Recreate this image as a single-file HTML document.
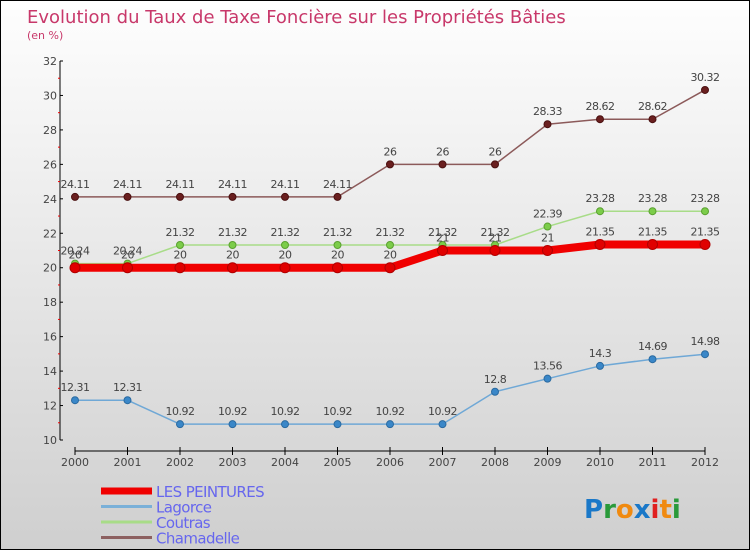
<!DOCTYPE html>
<html><head><meta charset="utf-8"><style>
html,body{margin:0;padding:0}
body{width:750px;height:550px;overflow:hidden;font-family:"DejaVu Sans","Liberation Sans",sans-serif}
#wrap{position:absolute;left:0;top:0;width:748px;height:548px;border:1px solid #000;background:linear-gradient(#fefefe,#cfcfcf)}
</style></head><body>
<div id="wrap">
<svg id="chart" width="748" height="548" style="position:absolute;left:0;top:0"></svg>
</div>
<script>
const years=["2000","2001","2002","2003","2004","2005","2006","2007","2008","2009","2010","2011","2012"];
const peintures=[20,20,20,20,20,20,20,21,21,21,21.35,21.35,21.35];
const lagorce=[12.31,12.31,10.92,10.92,10.92,10.92,10.92,10.92,12.8,13.56,14.3,14.69,14.98];
const coutras=[20.24,20.24,21.32,21.32,21.32,21.32,21.32,21.32,21.32,22.39,23.28,23.28,23.28];
const chamadelle=[24.11,24.11,24.11,24.11,24.11,24.11,26,26,26,28.33,28.62,28.62,30.32];
const yTicks=[10,12,14,16,18,20,22,24,26,28,30,32];
const seriesNames=["LES PEINTURES","Lagorce","Coutras","Chamadelle"];

const NS="http://www.w3.org/2000/svg";
const svg=document.getElementById('chart');
const ox=-1,oy=-1;
function X(i){return 75+i*52.5+ox;}
function Y(v){return 440-(v-10)*(379/22)+oy;}
function el(t,a,p){const e=document.createElementNS(NS,t);for(const k in a)e.setAttribute(k,a[k]);(p||svg).appendChild(e);return e;}
function txt(x,y,s,a){const t=el('text',Object.assign({x:x,y:y},a));t.textContent=s;return t;}

let t=txt(26,22,"Evolution du Taux de Taxe Foncière sur les Propriétés Bâties",{fill:"#c8386a","font-size":"18"});


t=txt(26,38,"(en %)",{fill:"#c8386a","font-size":"11"});



// y axis
let ax=el('line',{x1:X(0)-15,y1:Y(32),x2:X(0)-15,y2:Y(10),stroke:"#000","stroke-width":1});


yTicks.forEach(v=>{
  el('line',{x1:X(0)-15,y1:Y(v),x2:X(0)-12,y2:Y(v),stroke:"#000"});
  const l=txt(X(0)-18,Y(v)+4,String(v),{fill:"#444","font-size":"11","text-anchor":"end"});
  
  
  if(v<32) el('line',{x1:X(0)-17,y1:Y(v+1),x2:X(0)-15,y2:Y(v+1),stroke:"#e00"});
});
// x axis
ax=el('line',{x1:X(0),y1:451+oy,x2:X(12),y2:451+oy,stroke:"#000"});


years.forEach((y,i)=>{
  el('line',{x1:X(i),y1:447+oy,x2:X(i),y2:455+oy,stroke:"#000"});
  const l=txt(X(i),466+oy,y,{fill:"#444","font-size":"11","text-anchor":"middle"});
  
  
});

function series(vals,color,w,name,dot,labelDy){
  const g=el('g',{});
  
  
  const pts=vals.map((v,i)=>X(i)+","+Y(v)).join(" ");
  el('polyline',{points:pts,fill:"none",stroke:color,"stroke-width":w,"stroke-linejoin":"round"},g);
  vals.forEach((v,i)=>{
    const c=el('circle',{cx:X(i),cy:Y(v),r:dot.r,fill:dot.fill,stroke:dot.stroke,"stroke-width":1},g);
    
    
    const l=txt(X(i),Y(v)+labelDy,String(v),{fill:"#444","font-size":"11","text-anchor":"middle","letter-spacing":"-0.5"},g);
    
    
  });
}
series(lagorce,"#6fa8d6",1.5,"lagorce",{r:3.5,fill:"#3a87c8",stroke:"#2a6aa0"},-9);
series(coutras,"#a8dc88",1.5,"coutras",{r:3.5,fill:"#7ccd4a",stroke:"#5aa030"},-9);
series(chamadelle,"#8c5a5a",1.5,"chamadelle",{r:3.5,fill:"#6a1f1f",stroke:"#4a1010"},-9);
series(peintures,"#f00000",8,"les-peintures",{r:5,fill:"#e00000",stroke:"#b00000"},-9);

// legend
const lc=["#f00000","#7ab0d8","#a8dc88","#8c6060"],lw=[7,3,3,3];
seriesNames.forEach((n,i)=>{
  const y=491+i*15.5+oy;
  const g=el('g',{});
  
  
  el('line',{x1:100,y1:y,x2:151,y2:y,stroke:lc[i],"stroke-width":lw[i]},g);
  txt(155,y+6,n,{fill:"#6666ee","font-size":"15","letter-spacing":"-0.6"},g);
});
// logo
const lg=el('text',{x:583,y:517,"font-size":"26","font-family":"DejaVu Sans, sans-serif","font-weight":"bold"});


[["P","#1a78c8"],["r","#2a9a3a"],["o","#f08a10"],["x","#1a78c8"],["i","#e02020"],["t","#f08a10"],["i","#2a9a3a"]].forEach(([c,f])=>{const s=el('tspan',{fill:f},lg);s.textContent=c;});
</script>
</body></html>
